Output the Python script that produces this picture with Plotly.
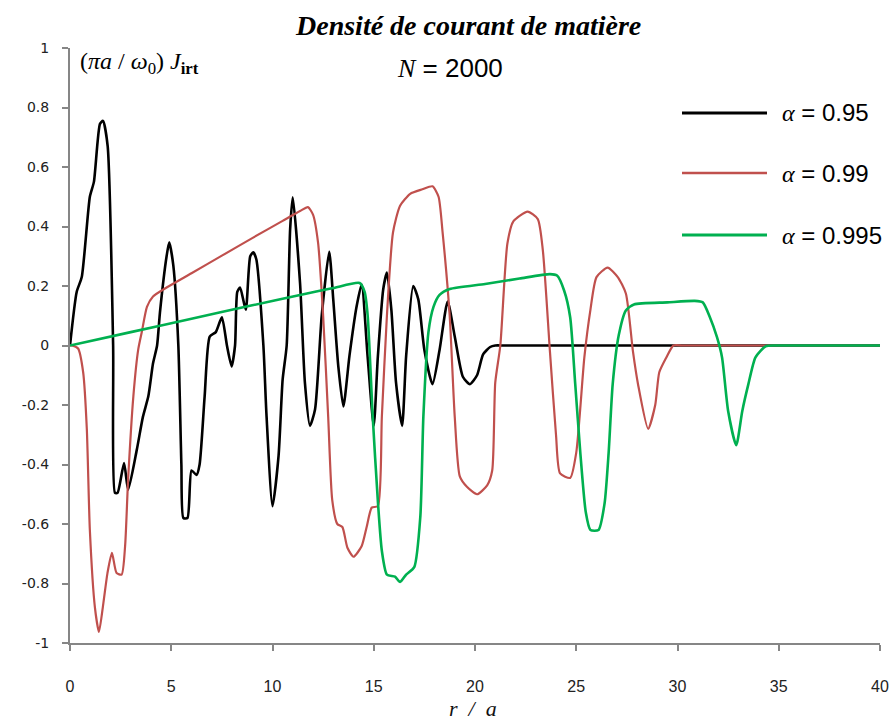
import plotly.graph_objects as go

# ---- data ----
x_095 = [0, 0.33, 0.58, 0.98, 1.18, 1.48, 1.63, 1.86, 2.13, 2.22, 2.35, 2.67, 2.87, 3.3, 3.6, 3.87,
         4.1, 4.3, 4.44, 4.77, 4.9, 5.1, 5.35, 5.5, 5.6, 5.8, 6.0, 6.25, 6.4, 6.65, 6.9, 7.2, 7.5,
         7.75, 7.98, 8.15, 8.26, 8.4, 8.68, 8.9, 9.05, 9.2, 9.55, 9.7, 10.0, 10.3, 10.5, 10.7, 10.87,
         11.0, 11.36, 11.6, 11.85, 12.1, 12.43, 12.8, 13.0, 13.25, 13.5, 13.8, 14.15, 14.4, 14.7,
         15.0, 15.2, 15.47, 15.65, 15.87, 16.1, 16.4, 16.6, 16.95, 17.2, 17.5, 17.9, 18.25, 18.65,
         19.0, 19.4, 19.75, 20.1, 20.4, 20.75, 21.0, 21.4, 21.8, 39.6, 40]
y_095 = [0, 0.18, 0.23, 0.50, 0.55, 0.745, 0.755, 0.67, 0.0, -0.495, -0.495, -0.395, -0.485, -0.35,
         -0.24, -0.17, -0.06, 0.0, 0.11, 0.30, 0.347, 0.27, 0.0, -0.40, -0.58, -0.58, -0.42, -0.435,
         -0.40, -0.17, 0.03, 0.045, 0.095, 0.0, -0.07, 0.0, 0.18, 0.195, 0.12, 0.30, 0.313, 0.29, 0.0,
         -0.23, -0.54, -0.37, -0.115, 0.0, 0.39, 0.498, 0.21, -0.125, -0.27, -0.215, 0.1, 0.315, 0.155,
         -0.07, -0.205, -0.035, 0.13, 0.205, -0.04, -0.27, -0.04, 0.19, 0.245, 0.12, -0.125, -0.27,
         -0.035, 0.2, 0.155, -0.015, -0.13, -0.015, 0.148, 0.03, -0.105, -0.13, -0.1, -0.03, -0.005,
         0.0, 0.0, 0.0, 0.0, 0.0]

x_099 = [0, 0.1, 0.4, 0.65, 0.83, 0.98, 1.23, 1.43, 1.65, 1.85, 2.07, 2.3, 2.55, 2.72, 2.87, 3.13,
         3.37, 3.55, 3.8, 4.1, 4.77, 6.0, 7.5, 9.0, 10.5, 11.36, 11.75, 12.0, 12.25, 12.5, 12.75,
         12.95, 13.2, 13.45, 13.7, 14.0, 14.4, 14.65, 14.9, 15.2, 15.4, 15.65, 15.95, 16.3, 16.8, 17.4,
         17.9, 18.2, 18.4, 18.75, 19.0, 19.25, 19.6, 20.1, 20.6, 20.85, 21.0, 21.25, 21.6, 21.9, 22.6,
         23.1, 23.35, 23.7, 24.0, 24.2, 24.7, 25.0, 25.4, 25.7, 26.0, 26.55, 27.05, 27.45, 27.8, 28.05,
         28.55, 28.9, 29.1, 29.45, 29.8, 30.2, 30.6, 39.6, 40]
y_099 = [0, 0, -0.01, -0.09, -0.28, -0.62, -0.88, -0.963, -0.865, -0.765, -0.697, -0.765, -0.77,
         -0.675, -0.45, -0.17, -0.013, 0.047, 0.13, 0.165, 0.195, 0.243, 0.302, 0.361, 0.419, 0.452,
         0.465, 0.44, 0.346, 0.1, -0.24, -0.52, -0.60, -0.61, -0.68, -0.71, -0.675, -0.61, -0.545,
         -0.54, -0.24, 0.1, 0.38, 0.47, 0.51, 0.525, 0.535, 0.50, 0.38, 0.1, -0.24, -0.44, -0.475,
         -0.50, -0.47, -0.42, -0.125, 0.0, 0.343, 0.418, 0.45, 0.425, 0.32, -0.02, -0.30, -0.43,
         -0.445, -0.36, -0.04, 0.12, 0.23, 0.262, 0.23, 0.175, -0.02, -0.13, -0.28, -0.2, -0.09,
         -0.04, 0.0, 0.0, 0.0, 0.0, 0.0]

x_0995 = [0, 3.0, 6.0, 9.0, 11.36, 13.0, 14.3, 14.55, 14.7, 14.95, 15.2, 15.4, 15.65, 16.05, 16.3,
          16.6, 17.0, 17.3, 17.45, 17.7, 17.95, 18.25, 18.75, 20.5, 22.2, 23.7, 24.05, 24.4, 24.7,
          24.95, 25.2, 25.47, 25.7, 26.1, 26.4, 26.6, 26.8, 27.1, 27.45, 27.85, 29.5, 30.85, 31.25,
          31.6, 31.95, 32.2, 32.5, 32.9, 33.2, 33.5, 33.85, 34.35, 34.8, 35.2, 39.6, 40]
y_0995 = [0, 0.045, 0.09, 0.135, 0.17, 0.193, 0.21, 0.18, 0.1, -0.24, -0.52, -0.69, -0.77, -0.777,
          -0.795, -0.77, -0.745, -0.575, -0.24, 0.045, 0.13, 0.17, 0.19, 0.207, 0.225, 0.24, 0.235,
          0.185, 0.095, -0.13, -0.36, -0.56, -0.62, -0.62, -0.53, -0.36, -0.13, 0.035, 0.118, 0.138,
          0.145, 0.15, 0.145, 0.095, 0.028, -0.04, -0.22, -0.335, -0.22, -0.13, -0.04, -0.003, 0.0,
          0.0, 0.0, 0.0]

series = [
    ("α = 0.95", x_095, y_095, "#000000", 2.6),
    ("α = 0.99", x_099, y_099, "#C0504D", 2.2),
    ("α = 0.995", x_0995, y_0995, "#00B050", 2.6),
]
legend_labels = [
    '<span style="font-family:Liberation Serif"><i>α</i></span> = 0.95',
    '<span style="font-family:Liberation Serif"><i>α</i></span> = 0.99',
    '<span style="font-family:Liberation Serif"><i>α</i></span> = 0.995',
]
x_ticks = [0, 5, 10, 15, 20, 25, 30, 35, 40]
y_ticks = [-1, -0.8, -0.6, -0.4, -0.2, 0, 0.2, 0.4, 0.6, 0.8, 1]
y_tick_text = ["-1", "-0.8", "-0.6", "-0.4", "-0.2", "0", "0.2", "0.4", "0.6", "0.8", "1"]

fig = go.Figure()
for name, xs, ys, col, w in series:
    fig.add_trace(go.Scatter(x=xs, y=ys, mode="lines", name=name, showlegend=False,
                             line=dict(color=col, width=w, shape="spline", smoothing=0.6)))

axis_col = "#868686"
fig.update_layout(
    width=892, height=724,
    margin=dict(l=70, r=12, t=48, b=81),
    paper_bgcolor="white", plot_bgcolor="white",
    xaxis=dict(range=[0, 40], tickvals=x_ticks, ticktext=[str(v) for v in x_ticks],
               automargin=False,
               showgrid=False, zeroline=False, showline=True, linecolor=axis_col, linewidth=2,
               ticks="outside", ticklen=6, tickwidth=2, tickcolor=axis_col,
               ticklabelstandoff=22,
               tickfont=dict(family="Liberation Sans", size=16, color="#222222")),
    yaxis=dict(range=[-1, 1], tickvals=y_ticks, ticktext=y_tick_text, automargin=False,
               showgrid=False, zeroline=False, showline=True, linecolor=axis_col, linewidth=2,
               ticks="outside", ticklen=6, tickwidth=2, tickcolor=axis_col,
               ticklabelstandoff=10,
               tickfont=dict(family="DejaVu Sans", size=14, color="#222222")),
)

# x-axis title
fig.add_annotation(text="<i>r  /  a</i>", xref="paper", yref="paper",
                   x=(473 - 70) / 810, y=(643 - 708) / 595, xanchor="center", yanchor="middle",
                   showarrow=False, font=dict(family="Liberation Serif", size=22, color="#111111"))
# chart title
fig.add_annotation(text="<b><i>Densité de courant de matière</i></b>", xref="paper", yref="paper",
                   x=(468 - 70) / 810, y=(643 - 26) / 595, xanchor="center", yanchor="middle",
                   showarrow=False,
                   font=dict(family="Liberation Serif", size=28, color="#000000"))
# y-axis quantity label
fig.add_annotation(text="(<i>πa</i> / <i>ω</i><sub>0</sub>) <i>J</i><sub><b>irt</b></sub>",
                   xref="paper", yref="paper", x=(78 - 70) / 810, y=(643 - 63) / 595,
                   xanchor="left", yanchor="middle", showarrow=False,
                   font=dict(family="Liberation Serif", size=24, color="#000000"))
fig.add_annotation(text='<span style="font-family:Liberation Serif"><i>N</i></span> = 2000',
                   xref="paper", yref="paper",
                   x=(450 - 70) / 810, y=(643 - 68) / 595, xanchor="center", yanchor="middle",
                   showarrow=False, font=dict(family="Liberation Sans", size=26, color="#000000"))

legend_y = [113, 173, 235]
for (name, xs, ys, col, w), lab, ly in zip(series, legend_labels, legend_y):
    yp = (643 - ly) / 595
    fig.add_shape(type="line", xref="paper", yref="paper", x0=(682 - 70) / 810, x1=(767 - 70) / 810,
                  y0=yp, y1=yp, line=dict(color=col, width=w + 0.4))
    fig.add_annotation(text=lab, xref="paper", yref="paper", x=(780 - 70) / 810, y=yp,
                       xanchor="left", yanchor="middle", showarrow=False,
                       font=dict(family="Liberation Sans", size=24, color="#000000"))

fig.write_html("out.html")
